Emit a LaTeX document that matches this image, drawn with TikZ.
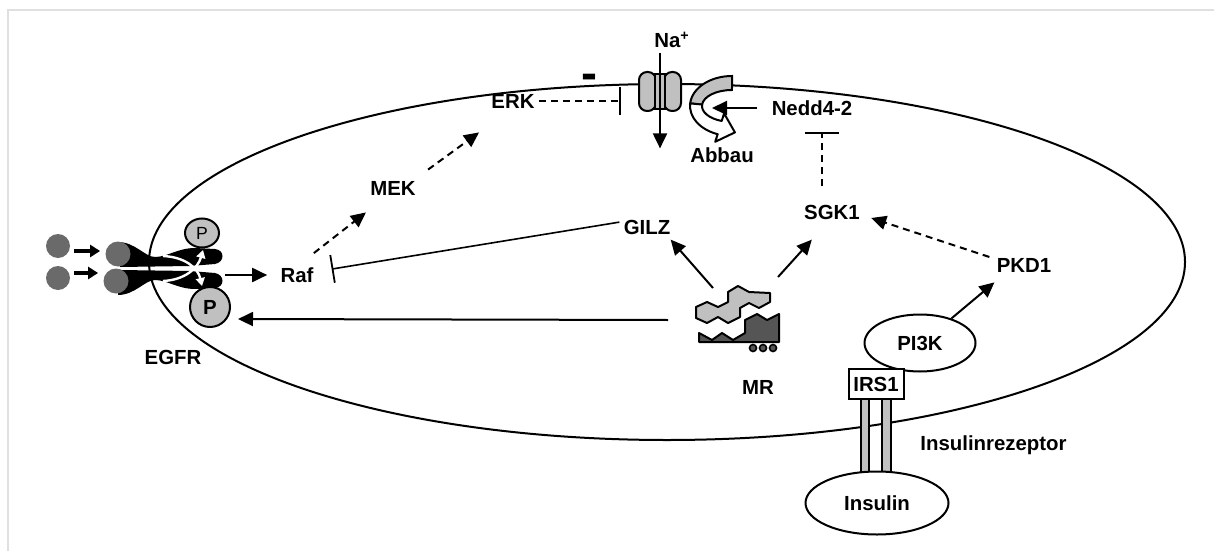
\documentclass[tikz,border=0pt]{standalone}
\usepackage{fontspec}
\setmainfont{Liberation Sans}
\usetikzlibrary{positioning, calc, arrows.meta, shapes.geometric}
\definecolor{grigiochiaro}{HTML}{C0C0C0}
\definecolor{grigioscuro}{HTML}{555555}
\definecolor{grigiopalla}{HTML}{6A6A6A}
\definecolor{cornice}{HTML}{E0E0E0}
\newcommand{\fonte}{\fontsize{10.2}{12}\selectfont}
\tikzset{
  lbl/.style={font=\fonte\bfseries, inner sep=2pt},
  arr/.style={line width=1pt, -{Triangle[length=7.5pt,width=7pt]}},
  darr/.style={arr, dash pattern=on 3.5pt off 2.5pt},
  inh/.style={line width=0.8pt, -{Bar[width=14pt,line width=0.9pt]}},
  dinh/.style={inh, dash pattern=on 3.5pt off 2.5pt},
  palla/.style={circle, fill=grigiopalla, minimum size=12pt, inner sep=0pt},
  fosfo/.style={ellipse, draw, line width=1pt, fill=grigiochiaro, inner sep=0pt},
  ligfreccia/.style={line width=2pt, -{Triangle[length=5pt,width=6pt]}},
}

\begin{document}
\begin{tikzpicture}[x=0.5pt, y=-0.5pt]
\useasboundingbox (0,0) rectangle (1214,551);
%cornice
\draw[cornice, line width=0.8pt] (8,551) -- (8,10) -- (1214,10);
%membrana cellulare
\draw[line width=1pt] (667,262) ellipse [x radius=518, y radius=178];

%recettore EGFR
\fill (118,242) .. controls (135,242) and (145,257) .. (155,257) .. controls (167,257) and (178,248) .. (195,248) -- (215,249) .. controls (225,250) and (225,262) .. (215,264) -- (190,266) -- (120,267) -- cycle;
\fill (118,295) .. controls (135,295) and (145,280) .. (155,280) .. controls (167,280) and (178,289) .. (195,289) -- (215,288) .. controls (225,287) and (225,275) .. (215,273) -- (190,271) -- (120,270) -- cycle;
\node[palla] (lig1) at (58,246) {};
\node[palla] (lig2) at (58,278) {};
\node[palla, minimum size=12.5pt] (rec1) at (118,254) {};
\node[palla, minimum size=12.5pt] (rec2) at (116,281) {};
\draw[ligfreccia] ([shift={(4,5)}]lig1.east) -- ([shift={(-5,5)}]lig1.east -| rec1.west);
\draw[ligfreccia] ([shift={(4,-5)}]lig2.east) -- ([shift={(-5,-5)}]lig2.east -| rec2.west);
%autofosforilazione
\draw[white, line width=1.2pt, -{Triangle[length=4pt,width=4.5pt]}] (163,281) .. controls (185,280) and (198,268) .. (203,250);
\draw[white, line width=1.2pt, -{Triangle[length=4pt,width=4.5pt]}] (163,256) .. controls (185,257) and (198,268) .. (202,286);
\node[fosfo, minimum width=17pt, minimum height=14.5pt, font=\fontsize{8.8}{10}\selectfont] (pA) at (202,233) {P};
\node[fosfo, circle, minimum size=20pt, font=\fonte\bfseries] (pB) at (210,307) {P};
\node[lbl] (egfr) at (173,357) {EGFR};

%canale ENaC
\node[minimum width=21pt, minimum height=20.5pt, inner sep=0pt] (enac) at (660,91.5) {};
\filldraw[fill=grigiochiaro, line width=1pt, rounded corners=4pt] (639,72) rectangle (656,111);
\filldraw[fill=grigiochiaro, line width=1pt, rounded corners=4pt] (664,72) rectangle (681,111);
\filldraw[fill=grigiochiaro, line width=0.8pt] (655,74) rectangle (660,109);
\filldraw[fill=grigiochiaro, line width=0.8pt] (660,74) rectangle (665,109);
\node[lbl, anchor=base west] (na) at (650,48) {Na\textsuperscript{+}};
\draw[arr] (na.south -| enac) -- ([shift={(0,36)}]enac.south);
\node[anchor=base, inner sep=0pt, font=\fontsize{24}{24}\selectfont\bfseries] (meno) at (589,90) {-};

%freccia di degradazione
\filldraw[fill=grigiochiaro, line width=1pt] (732,76) arc[start angle=270, end angle=185, x radius=42, y radius=30] -- (702.1,104.6) arc[start angle=185, end angle=270, x radius=30, y radius=16] -- cycle;
\filldraw[fill=white, line width=1pt, line join=round] (690.2,103.4) arc[start angle=185, end angle=110, x radius=42, y radius=30] -- (715.2,141.8) -- (734.9,132.4) -- (724.1,113.4) -- (721.7,121.0) arc[start angle=110, end angle=185, x radius=30, y radius=16] -- cycle;
\coordinate (ubend) at (712,108);
\node[lbl] (abbau) at (722,155) {Abbau};

%proteine
\node[lbl] (raf) at (297,275) {Raf};
\node[lbl] (mek) at (393,188) {MEK};
\node[lbl] (erk) at (513,101) {ERK};
\node[lbl] (gilz) at (647,227) {GILZ};
\node[lbl] (sgk) at (832,212) {SGK1};
\node[lbl] (pkd) at (1024,265) {PKD1};
\node[lbl] (nedd) at (812,108) {Nedd4-2};

%recettore MR
\filldraw[fill=grigioscuro, line width=1pt, line join=round] (699,342) -- (699,333) -- (712,340) -- (722,333) -- (733,340) -- (745,333) -- (745,320) -- (757,314) -- (767,320) -- (779,314) -- (779,342) -- cycle;
\filldraw[fill=grigiochiaro, line width=1pt, line join=round] (696,307) -- (707,302) -- (718,307) -- (728,302) -- (728,292) -- (738,286) -- (749,292) -- (770,293) -- (770,302) -- (759,308) -- (749,303) -- (740,308) -- (740,317) -- (728,323) -- (718,317) -- (707,323) -- (696,318) -- cycle;
\foreach \x in {753,763,773}
  \filldraw[fill=grigioscuro, line width=0.8pt] (\x,348) circle (3.5);
\node[lbl] (mr) at (758,387) {MR};
\coordinate (mrA) at (713,288);
\coordinate (mrB) at (778,277);
\coordinate (mrC) at (668,320);

%recettore insulina
\filldraw[fill=grigiochiaro, line width=1pt] (861,399) rectangle (869,472);
\filldraw[fill=grigiochiaro, line width=1pt] (882,399) rectangle (891,473);
\node[lbl, draw, ellipse, line width=1pt, fill=white, minimum width=55.5pt, minimum height=28.5pt] (pi3k) at (920,343) {PI3K};
\node[lbl, draw, line width=1pt, fill=white, minimum width=27.5pt, minimum height=15pt] (irs) at (876,384) {IRS1};
\node[lbl, draw, ellipse, line width=1pt, fill=white, minimum width=71.5pt, minimum height=31.5pt] (insulin) at (877,503) {Insulin};
\node[lbl, anchor=base west] (rezeptor) at (916,450) {Insulinrezeptor};

%frecce
\draw[arr, shorten >=4.5pt] (225,275) coordinate (rcp) -- (raf);
\draw[darr] ([shift={(-4,-10)}]raf.north east) -- ([shift={(0,13)}]mek.south west);
\draw[darr] ([shift={(8,-7)}]mek.north east) -- ([shift={(-8,20)}]erk.south west);
\draw[dinh, shorten >=9pt] (erk.east) -- (erk.east -| enac.west);
\draw[inh, shorten >=7pt] (gilz.170) -- (raf.10);
\draw[arr] (mrA) -- ([shift={(-4,1)}]gilz.south east);
\draw[arr] (mrB) -- ([shift={(12,16)}]sgk.south west);
\draw[arr] (mrC) -- ([shift={(7,12)}]pB.east);
\draw[darr] ([shift={(-3,-8)}]pkd.west) -- ([shift={(7,6)}]sgk.east);
\draw[arr] (pi3k.38) -- ([shift={(2,6)}]pkd.south west);
\draw[dinh, -{Bar[width=17pt,line width=0.9pt]}] ([shift={(-10,-14)}]sgk.north) -- ([shift={(10,12)}]nedd.south);
\draw[arr] ([shift={(-10,0)}]nedd.west) -- (ubend);
\end{tikzpicture}
\end{document}
